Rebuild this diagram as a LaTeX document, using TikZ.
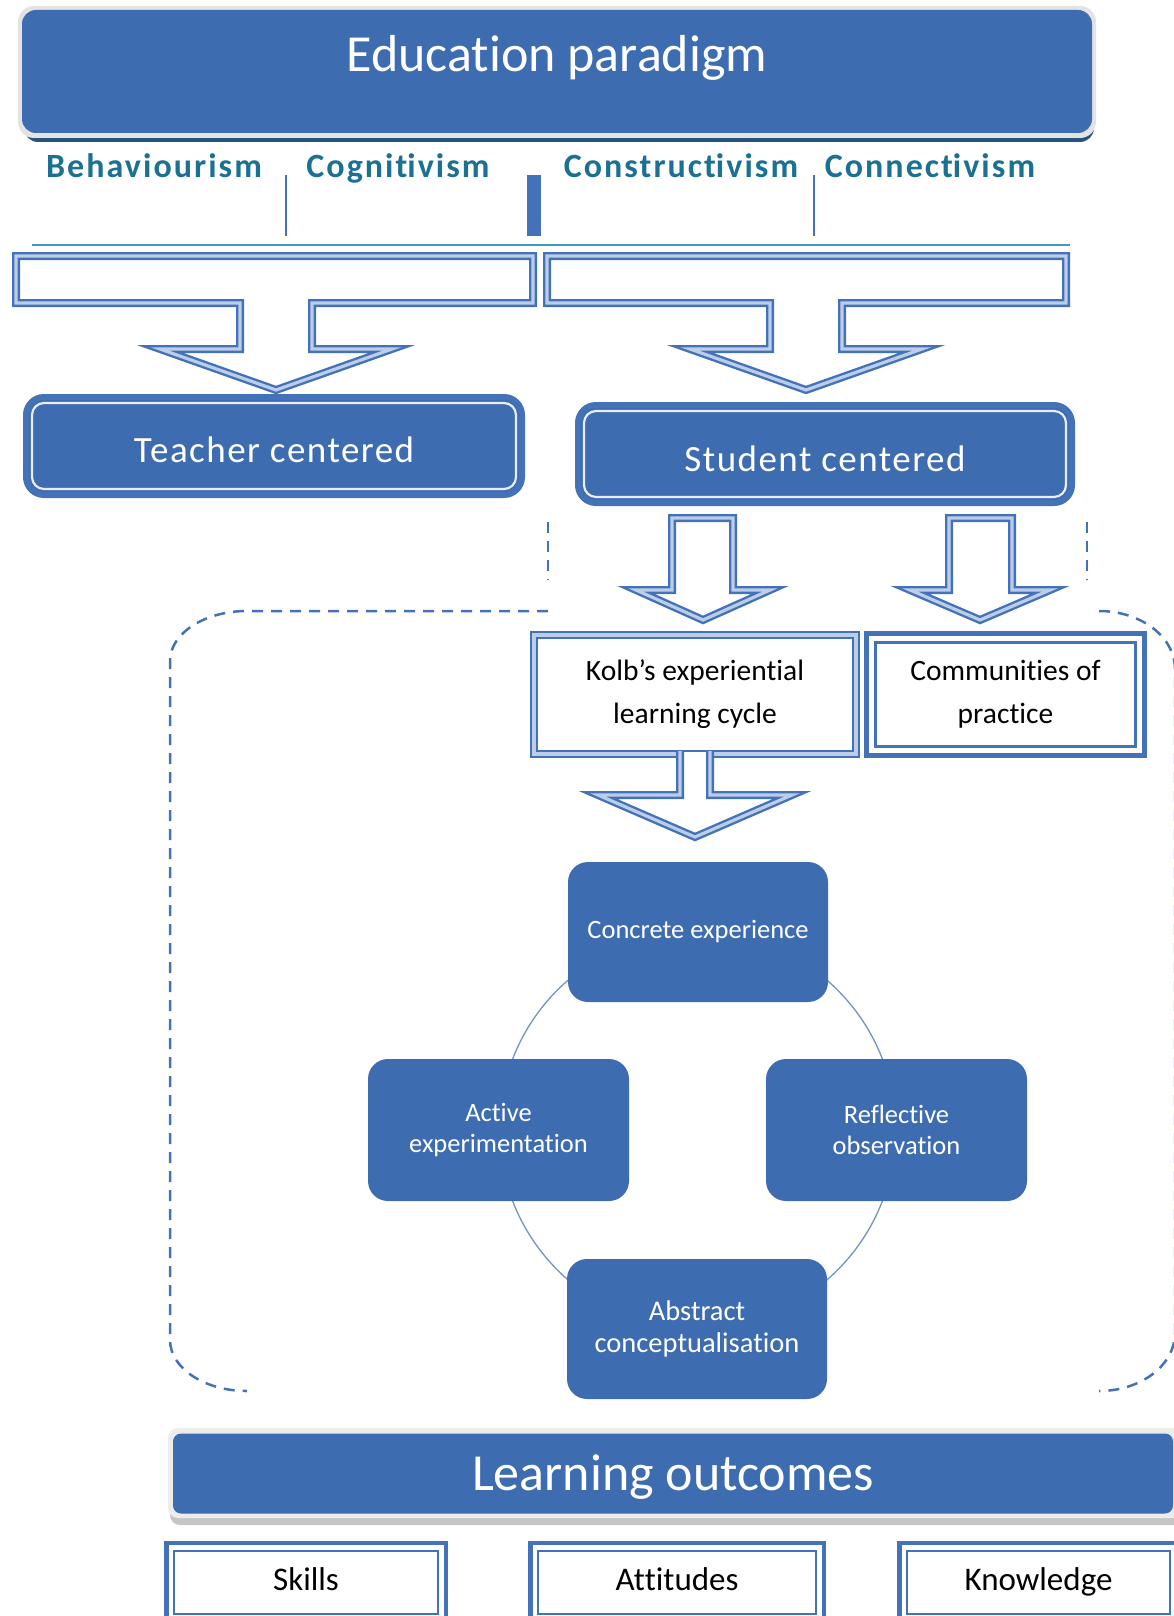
\documentclass[tikz,border=0pt]{standalone}
\usepackage{fontspec}
\setmainfont{Carlito}[RawFeature={-liga;-calt;-clig;-dlig}]
\newfontfamily\labelfont[LetterSpace=6,RawFeature={-liga;-calt;-clig;-dlig}]{Carlito}
\newfontfamily\wideface[LetterSpace=4,RawFeature={-liga;-calt;-clig;-dlig}]{Carlito}
\newcommand\nolig{\kern0pt }
\usetikzlibrary{calc}
\definecolor{boxblue}{RGB}{62,108,177}
\definecolor{frameblue}{RGB}{68,114,184}
\definecolor{bandblue}{RGB}{188,205,232}
\definecolor{tealtxt}{RGB}{28,113,147}
\definecolor{tealline}{RGB}{64,152,196}
\definecolor{circblue}{RGB}{112,148,198}
\definecolor{shadowblue}{RGB}{38,84,128}
\tikzset{
  solidbox/.style={fill=boxblue, draw=none, inner sep=0pt, outer sep=0pt},
  headbox/.style={solidbox, rounded corners=14pt, text=white, font=\fontsize{52}{60}\selectfont},
  centerbox/.style={fill=boxblue, draw=frameblue, line width=6pt, rounded corners=18pt, inner sep=0pt, outer sep=0pt, text=white, font=\wideface\fontsize{37}{44}\selectfont, text depth=0pt},
  innerline/.style={draw=white!88!boxblue, line width=2.2pt, rounded corners=12pt},
  paradigm/.style={text=tealtxt, font=\labelfont\bfseries\fontsize{34}{40}\selectfont, anchor=base, inner sep=0pt},
  divider/.style={draw=frameblue, line width=1.6pt},
  blockarrow/.style={draw=frameblue, double=bandblue, double distance=3.2pt, line width=2.4pt, fill=white, line join=miter},
  kolbframe/.style={draw=frameblue, double=bandblue, double distance=3.2pt, line width=2.6pt, fill=white, inner sep=0pt, outer sep=0pt, align=center, font=\fontsize{29.5}{43}\selectfont},
  heavyframe/.style={draw=frameblue, line width=5pt, fill=white, inner sep=0pt, outer sep=0pt, align=center, font=\fontsize{29.5}{43}\selectfont},
  outframe/.style={draw=frameblue, line width=4.5pt, fill=white, inner sep=0pt, outer sep=0pt, font=\fontsize{33}{40}\selectfont, text height=22pt, text depth=7pt},
  thinframe/.style={draw=frameblue, line width=2pt},
  cyclebox/.style={solidbox, rounded corners=20pt, minimum width=260pt, minimum height=140pt, text=white, align=center, font=\fontsize{26.5}{31}\selectfont},
  dashedge/.style={draw=frameblue, line width=2.5pt, dash pattern=on 11pt off 8pt},
}
\begin{document}
\begin{tikzpicture}[x=1pt,y=-1pt]
\useasboundingbox (0,0) rectangle (1173,1616);

% header box
\fill[shadowblue, rounded corners=14pt] (24,24) rectangle (1094,142);
\fill[gray!22, rounded corners=16pt] (18,6) rectangle (1096,138);
\node[headbox, minimum width=1070pt, minimum height=123pt, text height=20pt, text depth=19pt] (paradigmbox) at (557,71.5) {Educat\nolig ion paradigm};

% paradigm labels
\node[paradigm] (behav) at (154,178) {Behaviourism};
\node[paradigm] (cogn) at (398,178) {Cognit\nolig ivism};
\node[paradigm] (constr) at (681,178) {Construct\nolig ivism};
\node[paradigm] (connect) at (930,178) {Connect\nolig ivism};

% dividers
\draw[divider] (286,175) -- (286,236);
\fill[frameblue] (527,175) rectangle (541,236);
\draw[divider] (814,175) -- (814,236);
\draw[tealline, line width=2.2pt] (32,245) -- (1070,245);

% big block arrows
\draw[blockarrow] (16,256) -- (533,256) -- (533,303) -- (312,303) -- (312,349) -- (392,349) -- (276,390) -- (160,349) -- (240,349) -- (240,303) -- (16,303) -- cycle;
\draw[blockarrow] (547,256) -- (1066,256) -- (1066,303) -- (842,303) -- (842,349) -- (922,349) -- (806,390) -- (690,349) -- (770,349) -- (770,303) -- (547,303) -- cycle;

% teacher / student centered
\node[centerbox, minimum width=496pt, minimum height=98pt, text height=32pt] (teacher) at (274,446) {Teacher centered};
\draw[innerline] ([shift={(6,6)}]teacher.north west) rectangle ([shift={(-6,-6)}]teacher.south east);
\node[centerbox, minimum width=494pt, minimum height=98pt, text height=34pt] (student) at (825,454) {Student centered};
\draw[innerline] ([shift={(6,6)}]student.north west) rectangle ([shift={(-6,-6)}]student.south east);

% dashed outline
\draw[dashedge] (548,611) -- (247,611) .. controls (204.5,611) and (170,633.4) .. (170,661) -- (170,1340) .. controls (170,1368) and (204.5,1391) .. (247,1391);
\draw[dashedge] (1099,611) .. controls (1141,611) and (1175,637) .. (1175,669) -- (1175,1333) .. controls (1175,1365) and (1141,1391) .. (1099,1391);
\draw[dashedge] (548,522) -- (548,580);
\draw[dashedge] (1087,522) -- (1087,580);

% small arrows
\draw[blockarrow] (672,518) -- (733,518) -- (733,590) -- (770,590) -- (703,620) -- (636,590) -- (672,590) -- cycle;
\draw[blockarrow] (949,518) -- (1012,518) -- (1012,590) -- (1050,590) -- (980,620) -- (910,590) -- (949,590) -- cycle;

% Kolb and communities
\node[kolbframe, minimum width=322pt, minimum height=119pt] (kolb) at (695,694.5) {Kolb’s experient\nolig ial\\learning cycle};
\node[heavyframe, minimum width=278pt, minimum height=122pt] (cop) at (1005.5,694.5) {Communit\nolig ies of\\pract\nolig ice};
\draw[frameblue, line width=3.2pt] ([shift={(9,9)}]cop.north west) rectangle ([shift={(-9,-9)}]cop.south east);

% arrow below Kolb
\fill[white] (680,752) -- (680,795) -- (598,795) -- (695,837) -- (792,795) -- (710,795) -- (710,752) -- cycle;
\draw[blockarrow, fill=none] (680,751) -- (680,795) -- (598,795) -- (695,837) -- (792,795) -- (710,795) -- (710,751);

% Kolb cycle
\draw[circblue, line width=1.3pt] (697.5,1130) circle[radius=198pt];
\node[cyclebox] (concrete) at (698,932) {Concrete experience};
\node[cyclebox, minimum width=261pt, minimum height=142pt] (active) at (498.5,1130) {Act\nolig ive\\experimentat\nolig ion};
\node[cyclebox, minimum width=261pt, minimum height=142pt] (reflect) at (896.5,1130) {Ref\nolig lect\nolig ive\\observat\nolig ion};
\node[cyclebox, font=\fontsize{28.5}{32}\selectfont] (abstract) at (697,1329) {Abstract\\conceptualisat\nolig ion};

% learning outcomes
\fill[gray!45, rounded corners=10pt] (170,1440) rectangle (1190,1525);
\fill[gray!15, rounded corners=10pt] (168,1428) rectangle (1190,1518);
\node[solidbox, rounded corners=8pt, minimum width=1000pt, minimum height=80pt, text=white, font=\fontsize{52}{60}\selectfont, text height=40pt, text depth=7pt] (outcomes) at (673,1473.5) {Learning outcomes};

% outcome boxes
\node[outframe, minimum width=279.5pt, minimum height=78.75pt] (skills) at (306,1582.6) {Skills};
\draw[thinframe] ([shift={(8,8)}]skills.north west) rectangle ([shift={(-8,-8)}]skills.south east);
\node[outframe, minimum width=293.5pt, minimum height=78.75pt] (attitudes) at (677,1582.6) {At\nolig t\nolig itudes};
\draw[thinframe] ([shift={(8,8)}]attitudes.north west) rectangle ([shift={(-8,-8)}]attitudes.south east);
\node[outframe, minimum width=278.5pt, minimum height=78.75pt] (knowledge) at (1038.5,1582.6) {Knowledge};
\draw[thinframe] ([shift={(8,8)}]knowledge.north west) rectangle ([shift={(-8,-8)}]knowledge.south east);
\end{tikzpicture}
\end{document}
